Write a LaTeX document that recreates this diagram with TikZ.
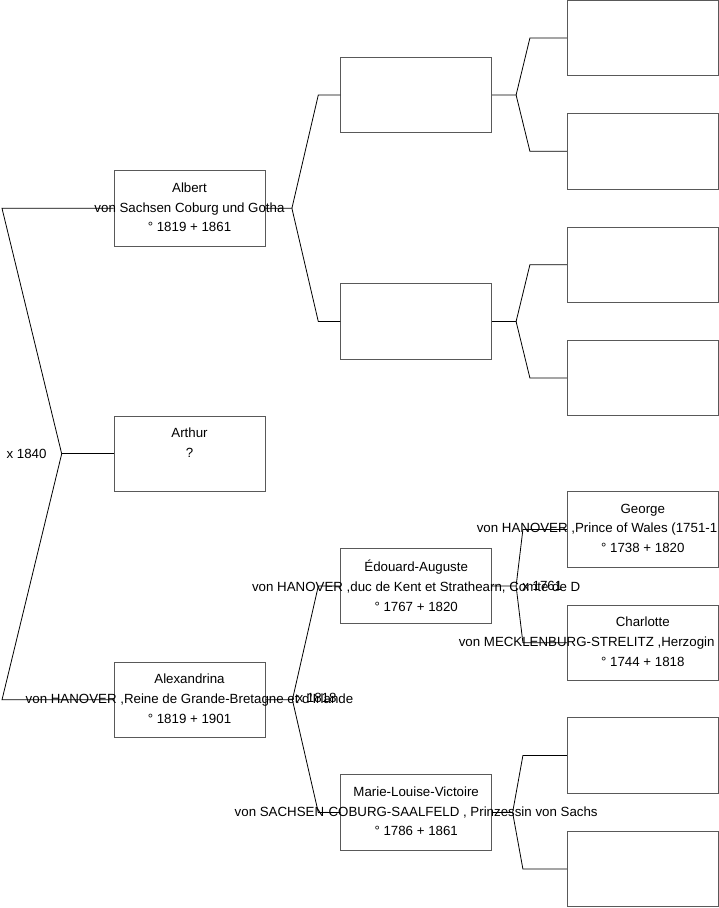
\documentclass[tikz,border=0pt]{standalone}
\usepackage{fontspec}
\setmainfont{Liberation Sans}
\begin{document}
\begin{tikzpicture}[x=1pt, y=-1pt,
    hop/.style={draw=black!65, line width=0.8pt, minimum width=151pt, minimum height=75.5pt, inner sep=0pt},
    chu/.style={anchor=north, align=center, inner sep=0pt, yshift=-12.4pt,
        font=\fontsize{13.3}{19.7}\selectfont, execute at begin node=\strut},
    marr/.style={inner sep=0pt, font=\fontsize{13.3}{19.7}\selectfont},
    net/.style={line width=0.8pt, black}]
    % 1. Vùng hiển thị
    \useasboundingbox (0,0) rectangle (719,908);
    \clip (0,0) rectangle (719,908);

    % 2. Thế hệ 1
    \node[hop] (albert) at (189.5,208.3) {};
    \node[hop] (arthur) at (189.5,453.8) {};
    \node[hop] (alexandrina) at (189.5,699.8) {};

    % 3. Thế hệ 2
    \node[hop] (pa1) at (416.2,95) {};
    \node[hop] (pa2) at (416.2,321.5) {};
    \node[hop] (edouard) at (416.2,586) {};
    \node[hop] (marie) at (416.2,812.5) {};

    % 4. Thế hệ 3
    \node[hop] (g1) at (642.8,38) {};
    \node[hop] (g2) at (642.8,151.3) {};
    \node[hop] (g3) at (642.8,264.7) {};
    \node[hop] (g4) at (642.8,378) {};
    \node[hop] (george) at (642.8,529.5) {};
    \node[hop] (charlotte) at (642.8,642.7) {};
    \node[hop] (g7) at (642.8,755.5) {};
    \node[hop] (g8) at (642.8,869) {};

    % 5. Tên và năm
    \node[chu] (albertT) at (albert.north) {Albert\\von Sachsen Coburg und Gotha\\° 1819 + 1861};
    \node[chu] (arthurT) at (arthur.north) {Arthur\\?};
    \node[chu] (alexandrinaT) at (alexandrina.north) {Alexandrina\\von HANOVER ,Reine de Grande-Bretagne et d'Irlande\\° 1819 + 1901};
    \node[chu] (edouardT) at (edouard.north) {Édouard-Auguste\\von HANOVER ,duc de Kent et Strathearn, Comte de D\\° 1767 + 1820};
    \node[chu] (marieT) at (marie.north) {Marie-Louise-Victoire\\von SACHSEN-COBURG-SAALFELD , Prinzessin von Sachs\\° 1786 + 1861};
    \node[chu] (georgeT) at (george.north) {George\\\makebox[332pt][l]{von HANOVER ,Prince of Wales (1751-1}\\° 1738 + 1820};
    \node[chu] (charlotteT) at (charlotte.north) {Charlotte\\\makebox[368pt][l]{von MECKLENBURG-STRELITZ ,Herzogin}\\° 1744 + 1818};

    % 6. Nhánh trái (hôn nhân 1840)
    \coordinate (f0) at (61.7,453.8);
    \coordinate (b0a) at (2,208.3);
    \coordinate (b0b) at (2,699.8);
    \draw[net] (arthur.west) -- (f0);
    \draw[net] (f0) -- (b0a) -- (albert.west);
    \draw[net] (f0) -- (b0b) -- (alexandrina.west);

    % 7. Các nhánh cha mẹ
    \foreach \p/\a/\b/\s/\d in {albert/pa1/pa2/26.5pt/22pt, alexandrina/edouard/marie/27pt/22pt,
        pa1/g1/g2/24pt/37pt, pa2/g3/g4/24pt/37pt,
        edouard/george/charlotte/24pt/44pt, marie/g7/g8/20.5pt/44pt} {
        \draw[net] (\p.east) -- ([xshift=\s]\p.east) coordinate (f-\p)
            -- ([xshift=-\d]\a.west) -- (\a.west);
        \draw[net] (f-\p) -- ([xshift=-\d]\b.west) -- (\b.west);
    }

    % 8. Năm kết hôn
    \node[marr, anchor=east] (m0) at ([xshift=-15pt]f0) {x 1840};
    \node[marr, anchor=west] (m1) at ([xshift=4pt,yshift=1.5pt]f-alexandrina) {x 1818};
    \node[marr, anchor=west] (m2) at ([xshift=6pt]f-edouard) {x 1761};
\end{tikzpicture}
\end{document}
